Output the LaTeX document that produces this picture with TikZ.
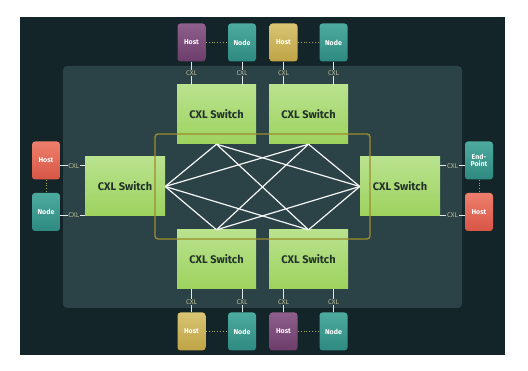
\documentclass[tikz,border=0pt]{standalone}
\usepackage{fontspec}
\setmainfont{Fira Sans}
\definecolor{bgc}{HTML}{14252A}
\definecolor{panel}{HTML}{2B4247}
\definecolor{swtop}{HTML}{B9E28E}
\definecolor{swbot}{HTML}{9DD25E}
\definecolor{swtext}{HTML}{22322A}
\definecolor{goldc}{HTML}{9C8C2C}
\definecolor{cxlc}{HTML}{BDBD95}
\definecolor{dotc}{HTML}{A8A860}
\definecolor{linkc}{HTML}{E4E8E6}
\definecolor{purtop}{HTML}{8E5E8C}
\definecolor{purbot}{HTML}{6C3C6A}
\definecolor{teatop}{HTML}{4DAA9E}
\definecolor{teabot}{HTML}{2E8A80}
\definecolor{yeltop}{HTML}{D8C472}
\definecolor{yelbot}{HTML}{BFA346}
\definecolor{redtop}{HTML}{EE7E6C}
\definecolor{redbot}{HTML}{D85646}
\begin{document}
\begin{tikzpicture}[x=1pt,y=-1pt,
  dev/.style={rounded corners=3pt, minimum width=28pt, minimum height=38pt, inner sep=0pt,
    text=white, font=\bfseries\fontsize{7}{7.5}\selectfont, align=center},
  purp/.style={dev, top color=purtop, bottom color=purbot},
  teal/.style={dev, top color=teatop, bottom color=teabot},
  yelw/.style={dev, top color=yeltop, bottom color=yelbot},
  redd/.style={dev, top color=redtop, bottom color=redbot},
  sw/.style={minimum width=79pt, minimum height=59pt, inner sep=0pt,
    top color=swtop, bottom color=swbot, text=swtext, font=\bfseries\fontsize{11}{13}\selectfont},
  cxl/.style={fill=panel, inner sep=0.8pt, text=cxlc, font=\fontsize{6.8}{7}\selectfont},
  link/.style={draw=linkc, line width=1pt},
  mesh/.style={draw=white!93!gray, line width=1.2pt},
  dots/.style={draw=dotc, dotted, line width=0.9pt},
]
\useasboundingbox (0,0) rectangle (528,371);
\fill[white] (0,0) rectangle (528,371);
\fill[bgc] (20,17) rectangle (505,355);
\fill[panel, rounded corners=4pt] (63,66) rectangle (462,308);

% switches
\node[sw] (TL) at (216.5,114.5) {CXL Switch};
\node[sw] (TR) at (308.5,114.5) {CXL Switch};
\node[sw] (BL) at (216.5,259.5) {CXL Switch};
\node[sw] (BR) at (308.5,259.5) {CXL Switch};
\node[sw, minimum width=80pt] (SL) at (125,186.5) {CXL Switch};
\node[sw, minimum width=80pt] (SR) at (400,186.5) {CXL Switch};

% mesh
\foreach \a in {TL,TR} {
  \draw[mesh] (SL.east) -- (\a.south);
  \draw[mesh] (SR.west) -- (\a.south);
}
\foreach \a in {BL,BR} {
  \draw[mesh] (SL.east) -- (\a.north);
  \draw[mesh] (SR.west) -- (\a.north);
}
\draw[mesh] (TL.south) -- (BR.north);
\draw[mesh] (TR.south) -- (BL.north);

% gold frame
\draw[goldc, line width=1.3pt, rounded corners=3pt] (155,134) rectangle (370,239);

% top devices
\node[purp] (H1) at (191.5,42.5) {Host};
\node[teal] (N1) at (242,42.5) {Node};
\node[yelw] (H2) at (283.5,42.5) {Host};
\node[teal] (N2) at (333.5,42.5) {Node};
% bottom devices
\node[yelw] (H3) at (191.5,331.5) {Host};
\node[teal] (N3) at (242,331.5) {Node};
\node[purp] (H4) at (283.5,331.5) {Host};
\node[teal] (N4) at (333.5,331.5) {Node};
% left devices
\node[redd] (HL) at (46,160.5) {Host};
\node[teal] (NL) at (46,212) {Node};
% right devices
\node[teal] (EP) at (479,160.5) {End-\\Point};
\node[redd] (HR) at (479,212) {Host};

% dotted links between devices
\draw[dots] (H1.east) -- (N1.west);
\draw[dots] (H2.east) -- (N2.west);
\draw[dots] (H3.east) -- (N3.west);
\draw[dots] (H4.east) -- (N4.west);
\draw[dots] (HL.south) -- (NL.north);
\draw[dots] (EP.south) -- (HR.north);

% CXL connectors
\foreach \d/\s in {H1/TL,N1/TL,H2/TR,N2/TR} {
  \draw[link] (\d.south) -- (\d.south |- \s.north) node[cxl, pos=0.5] {CXL};
}
\foreach \d/\s in {H3/BL,N3/BL,H4/BR,N4/BR} {
  \draw[link] (\d.north) -- (\d.north |- \s.south) node[cxl, pos=0.45] {CXL};
}
\draw[link] ([yshift=-5.5pt]HL.east) -- ([yshift=-5.5pt]HL.east -| SL.west) node[cxl, pos=0.55] {CXL};
\draw[link] ([yshift=-3.5pt]NL.east) -- ([yshift=-3.5pt]NL.east -| SL.west) node[cxl, pos=0.55] {CXL};
\draw[link] ([yshift=-5.5pt]EP.west) -- ([yshift=-5.5pt]EP.west -| SR.east) node[cxl, pos=0.5] {CXL};
\draw[link] ([yshift=-3.5pt]HR.west) -- ([yshift=-3.5pt]HR.west -| SR.east) node[cxl, pos=0.5] {CXL};
\end{tikzpicture}
\end{document}
